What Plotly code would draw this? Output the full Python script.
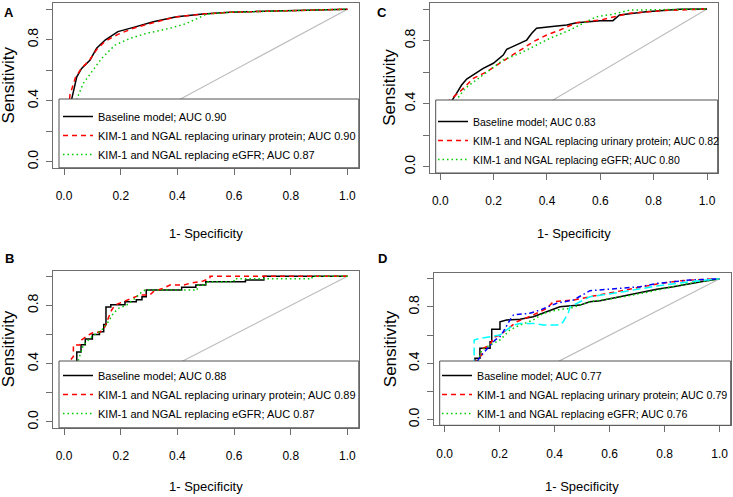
import plotly.graph_objects as go

# ---------------- data (fpr = 1-specificity, tpr = sensitivity) ----------------
A_base_x = [0, 0.02, 0.027, 0.045, 0.062, 0.092, 0.115, 0.145, 0.19, 0.245, 0.315, 0.397, 0.49, 0.585, 0.82, 1.0]
A_base_y = [0, 0.30, 0.41, 0.557, 0.612, 0.667, 0.744, 0.798, 0.853, 0.881, 0.918, 0.951, 0.968, 0.98, 0.99, 1.0]
A_urin_x = [0, 0.015, 0.021, 0.04, 0.06, 0.09, 0.115, 0.145, 0.19, 0.245, 0.30, 0.39, 0.49, 0.585, 0.82, 1.0]
A_urin_y = [0, 0.30, 0.44, 0.55, 0.61, 0.665, 0.735, 0.79, 0.835, 0.875, 0.905, 0.948, 0.968, 0.98, 0.99, 1.0]
A_egfr_x = [0, 0.03, 0.045, 0.068, 0.098, 0.133, 0.18, 0.233, 0.292, 0.374, 0.433, 0.468, 0.503, 0.585, 0.82, 1.0]
A_egfr_y = [0, 0.30, 0.41, 0.514, 0.59, 0.678, 0.765, 0.809, 0.842, 0.875, 0.907, 0.94, 0.968, 0.98, 0.99, 1.0]

B_base_x = [0, 0.045, 0.045, 0.06, 0.06, 0.075, 0.075, 0.10, 0.10, 0.125, 0.125, 0.14, 0.14, 0.148, 0.148, 0.165, 0.165,
            0.215, 0.215, 0.255, 0.255, 0.275, 0.275, 0.29, 0.29, 0.415, 0.415, 0.465, 0.465, 0.50, 0.50, 0.64, 0.64,
            0.705, 0.705, 1.0]
B_base_y = [0, 0.40, 0.48, 0.48, 0.53, 0.53, 0.57, 0.57, 0.60, 0.60, 0.62, 0.62, 0.67, 0.67, 0.79, 0.79, 0.805,
            0.805, 0.826, 0.826, 0.84, 0.84, 0.86, 0.86, 0.906, 0.906, 0.925, 0.925, 0.94, 0.94, 0.963, 0.963, 0.975,
            0.975, 1.0, 1.0]
B_urin_x = [0, 0.021, 0.033, 0.033, 0.056, 0.062, 0.086, 0.104, 0.127, 0.145, 0.156, 0.168, 0.18, 0.221, 0.268, 0.303,
            0.315, 0.35, 0.374, 0.421, 0.444, 0.491, 0.515, 0.515, 1.0]
B_urin_y = [0, 0.42, 0.45, 0.528, 0.528, 0.563, 0.597, 0.616, 0.616, 0.654, 0.712, 0.769, 0.803, 0.837, 0.872, 0.872,
            0.895, 0.918, 0.94, 0.94, 0.952, 0.968, 0.986, 1.0, 1.0]
B_egfr_x = [0, 0.05, 0.068, 0.098, 0.133, 0.156, 0.174, 0.192, 0.221, 0.244, 0.268, 0.286, 0.386, 0.47, 0.47, 0.50,
            0.50, 0.60, 0.60, 0.875, 0.875, 1.0]
B_egfr_y = [0, 0.42, 0.528, 0.585, 0.63, 0.688, 0.746, 0.78, 0.803, 0.837, 0.883, 0.906, 0.906, 0.906, 0.938, 0.938,
            0.963, 0.963, 0.983, 0.983, 1.0, 1.0]

C_base_x = [0, 0.03, 0.04, 0.061, 0.08, 0.099, 0.13, 0.161, 0.199, 0.236, 0.249, 0.286, 0.324, 0.343, 0.361, 0.411,
            0.474, 0.511, 0.60, 0.647, 0.672, 0.772, 0.898, 1.0]
C_base_y = [0, 0.30, 0.41, 0.465, 0.518, 0.556, 0.588, 0.624, 0.656, 0.708, 0.744, 0.772, 0.803, 0.846, 0.878, 0.888,
            0.899, 0.913, 0.926, 0.926, 0.962, 0.983, 0.998, 1.0]
C_urin_x = [0, 0.025, 0.034, 0.08, 0.124, 0.174, 0.211, 0.261, 0.311, 0.349, 0.399, 0.449, 0.51, 0.60, 0.71, 0.835, 1.0]
C_urin_y = [0, 0.30, 0.42, 0.486, 0.56, 0.602, 0.645, 0.698, 0.751, 0.793, 0.835, 0.867, 0.913, 0.93, 0.973, 0.99, 1.0]
C_egfr_x = [0, 0.04, 0.055, 0.093, 0.136, 0.186, 0.236, 0.299, 0.349, 0.411, 0.486, 0.585, 0.647, 0.71, 1.0]
C_egfr_y = [0, 0.30, 0.41, 0.497, 0.55, 0.613, 0.677, 0.719, 0.761, 0.814, 0.867, 0.951, 0.967, 0.993, 1.0]

D_base_x = [0, 0.098, 0.11, 0.11, 0.128, 0.128, 0.165, 0.165, 0.171, 0.171, 0.201, 0.201, 0.225, 0.274, 0.322, 0.371,
            0.419, 0.492, 0.528, 0.565, 0.649, 0.71, 0.771, 0.831, 0.892, 0.953, 1.0]
D_base_y = [0, 0.40, 0.40, 0.435, 0.435, 0.506, 0.506, 0.553, 0.553, 0.641, 0.641, 0.695, 0.707, 0.712, 0.73, 0.766,
            0.801, 0.813, 0.837, 0.844, 0.877, 0.896, 0.925, 0.943, 0.967, 0.986, 1.0]
D_urin_x = [0, 0.11, 0.135, 0.14, 0.165, 0.177, 0.201, 0.225, 0.262, 0.322, 0.371, 0.395, 0.468, 0.54, 0.589, 0.686,
            0.771, 0.856, 1.0]
D_urin_y = [0, 0.41, 0.459, 0.506, 0.53, 0.584, 0.60, 0.636, 0.695, 0.743, 0.79, 0.837, 0.849, 0.877, 0.896, 0.932,
            0.962, 0.986, 1.0]
D_egfr_x = [0, 0.12, 0.135, 0.165, 0.201, 0.237, 0.274, 0.322, 0.359, 0.407, 0.456, 0.528, 0.649, 0.746, 0.856, 1.0]
D_egfr_y = [0, 0.41, 0.494, 0.53, 0.565, 0.636, 0.672, 0.707, 0.755, 0.778, 0.79, 0.837, 0.872, 0.908, 0.955, 1.0]
D_blue_x = [0, 0.116, 0.14, 0.165, 0.183, 0.201, 0.213, 0.237, 0.25, 0.31, 0.347, 0.407, 0.468, 0.528, 0.71, 0.771,
            0.892, 1.0]
D_blue_y = [0, 0.41, 0.471, 0.53, 0.565, 0.589, 0.624, 0.707, 0.743, 0.755, 0.778, 0.826, 0.849, 0.915, 0.943, 0.967,
            0.991, 1.0]
D_cyan_x = [0, 0.102, 0.107, 0.107, 0.128, 0.165, 0.201, 0.225, 0.25, 0.274, 0.322, 0.359, 0.419, 0.431, 0.449, 0.456,
            0.528, 0.649, 0.771, 0.892, 1.0]
D_cyan_y = [0, 0.41, 0.41, 0.565, 0.577, 0.589, 0.60, 0.636, 0.672, 0.683, 0.683, 0.672, 0.672, 0.695, 0.755, 0.801,
            0.872, 0.908, 0.948, 0.979, 1.0]

legend_A = ["Baseline model; AUC 0.90", "KIM-1 and NGAL replacing urinary protein; AUC 0.90",
            "KIM-1 and NGAL replacing eGFR; AUC 0.87"]
legend_B = ["Baseline model; AUC 0.88", "KIM-1 and NGAL replacing urinary protein; AUC 0.89",
            "KIM-1 and NGAL replacing eGFR; AUC 0.87"]
legend_C = ["Baseline model; AUC 0.83", "KIM-1 and NGAL replacing urinary protein; AUC 0.82",
            "KIM-1 and NGAL replacing eGFR; AUC 0.80"]
legend_D = ["Baseline model; AUC 0.77", "KIM-1 and NGAL replacing urinary protein; AUC 0.79",
            "KIM-1 and NGAL replacing eGFR; AUC 0.76"]

tick_vals = [0, 0.2, 0.4, 0.6, 0.8, 1.0]
x_tick_text = ["0.0", "0.2", "0.4", "0.6", "0.8", "1.0"]
y_tick_text = ["0.0", "", "0.4", "", "0.8", ""]
diag = [0, 1]

# ---------------- layout geometry (pixels) ----------------
W, H = 733, 497
FONT = "Liberation Sans, Arial, sans-serif"
# panel: (left, right, top, bottom) of plot box in px
boxes = {
    1: (52.7, 358.8, 3.1, 167.8),    # A
    2: (429.6, 717.7, 2.7, 173.0),   # C
    3: (52.7, 358.8, 270.5, 427.8),  # B
    4: (433.7, 730.7, 273.1, 425.3), # D
}
legend_font = {1: 11, 2: 10.5, 3: 11, 4: 10.7}
legend_text_x = {1: 98, 2: 473, 3: 98, 4: 477}
legend_row1_y = {1: 112, 2: 117, 3: 371, 4: 371}
legend_top_px = {1: 99, 2: 100, 3: 361, 4: 361}
legend_left_px = {1: 59, 2: 435.7, 3: 59, 4: 439.7}
xtitle_y = {1: 233, 2: 233, 3: 486, 4: 486}
ytitle_x = {1: 8, 2: 390, 3: 8, 4: 390}
letter_pos = {1: (9, 12), 2: (382, 12), 3: (9, 258), 4: (382, 258)}

styles = {
    "base": dict(color="black", dash="solid"),
    "urin": dict(color="#FF0000", dash="5px,4px"),
    "egfr": dict(color="#00CD00", dash="1.5px,3px"),
    "blue": dict(color="#0000FF", dash="1.5px,3px,5px,3px"),
    "cyan": dict(color="#00FFFF", dash="8px,4px"),
}

panels = {
    1: [("base", A_base_x, A_base_y, legend_A[0]), ("urin", A_urin_x, A_urin_y, legend_A[1]),
        ("egfr", A_egfr_x, A_egfr_y, legend_A[2])],
    2: [("base", C_base_x, C_base_y, legend_C[0]), ("urin", C_urin_x, C_urin_y, legend_C[1]),
        ("egfr", C_egfr_x, C_egfr_y, legend_C[2])],
    3: [("base", B_base_x, B_base_y, legend_B[0]), ("urin", B_urin_x, B_urin_y, legend_B[1]),
        ("egfr", B_egfr_x, B_egfr_y, legend_B[2])],
    4: [("base", D_base_x, D_base_y, legend_D[0]), ("urin", D_urin_x, D_urin_y, legend_D[1]),
        ("egfr", D_egfr_x, D_egfr_y, legend_D[2]), ("blue", D_blue_x, D_blue_y, None),
        ("cyan", D_cyan_x, D_cyan_y, None)],
}
legend_names = {1: "legend", 2: "legend3", 3: "legend2", 4: "legend4"}
letters = {1: "A", 2: "C", 3: "B", 4: "D"}

fig = go.Figure()
layout = dict(width=W, height=H, margin=dict(l=0, r=0, t=0, b=0, autoexpand=False), autosize=False,
              paper_bgcolor="white", plot_bgcolor="white", showlegend=True,
              font=dict(family=FONT, color="black"))
shapes, annotations = [], []

def px_x(v):
    return v / W

def px_y(v):
    return 1 - v / H

for i, (l, r, t, b) in boxes.items():
    xa = "x" if i == 1 else f"x{i}"
    ya = "y" if i == 1 else f"y{i}"
    fig.add_trace(go.Scatter(x=diag, y=diag, mode="lines", line=dict(color="#BDBDBD", width=1.2),
                             xaxis=xa, yaxis=ya, showlegend=False, hoverinfo="skip"))
    for key, xs, ys, name in panels[i]:
        st = styles[key]
        fig.add_trace(go.Scatter(x=xs, y=ys, mode="lines", name=name if name else key,
                                 line=dict(color=st["color"], dash=st["dash"], width=1.5),
                                 xaxis=xa, yaxis=ya, showlegend=name is not None,
                                 legend=legend_names[i]))
    axcommon = dict(range=[-0.04, 1.04], showgrid=False, zeroline=False, showline=True, mirror=True,
                    linecolor="#6E6E6E", linewidth=1, ticks="outside", ticklen=6, tickcolor="#6E6E6E",
                    tickvals=tick_vals, fixedrange=True)
    layout["xaxis" if i == 1 else f"xaxis{i}"] = dict(axcommon, domain=[px_x(l), px_x(r)], anchor=ya,
                                                     ticktext=x_tick_text, ticklabelstandoff=11,
                                                     tickfont=dict(family=FONT, size=12, color="black"))
    layout["yaxis" if i == 1 else f"yaxis{i}"] = dict(axcommon, domain=[px_y(b), px_y(t)], anchor=xa,
                                                     ticktext=y_tick_text, tickangle=-90, ticklabelstandoff=2,
                                                     tickfont=dict(family=FONT, size=14, color="black"))
    # legend box
    shapes.append(dict(type="rect", xref="paper", yref="paper", x0=px_x(legend_left_px[i]), x1=px_x(r),
                       y0=px_y(b), y1=px_y(legend_top_px[i]), fillcolor="white",
                       line=dict(color="#505050", width=1), layer="above"))
    layout[legend_names[i]] = dict(x=px_x(legend_text_x[i] - 40), y=px_y(legend_row1_y[i] - 10),
                                   xanchor="left", yanchor="top",
                                   bgcolor="rgba(0,0,0,0)", borderwidth=0, tracegroupgap=0,
                                   font=dict(family=FONT, size=legend_font[i], color="black"), itemwidth=30)
    cx = (l + r) / 2
    cy = (t + b) / 2
    annotations.append(dict(text="1- Specificity", x=px_x(cx), y=px_y(xtitle_y[i]), xref="paper", yref="paper",
                            showarrow=False, xanchor="center", yanchor="middle",
                            font=dict(family=FONT, size=13, color="black")))
    annotations.append(dict(text="Sensitivity", x=px_x(ytitle_x[i]), y=px_y(cy), xref="paper", yref="paper",
                            showarrow=False, xanchor="center", yanchor="middle", textangle=-90,
                            font=dict(family=FONT, size=17, color="black")))
    lx, ly = letter_pos[i]
    annotations.append(dict(text=f"<b>{letters[i]}</b>", x=px_x(lx), y=px_y(ly),
                            xref="paper", yref="paper", showarrow=False, xanchor="center", yanchor="middle",
                            font=dict(family=FONT, size=13, color="black")))

layout["shapes"] = shapes
layout["annotations"] = annotations
fig.update_layout(**layout)
fig.write_html("out.html", config={"displayModeBar": False},
               post_script="document.body.style.margin='0';document.body.style.overflow='hidden';")
